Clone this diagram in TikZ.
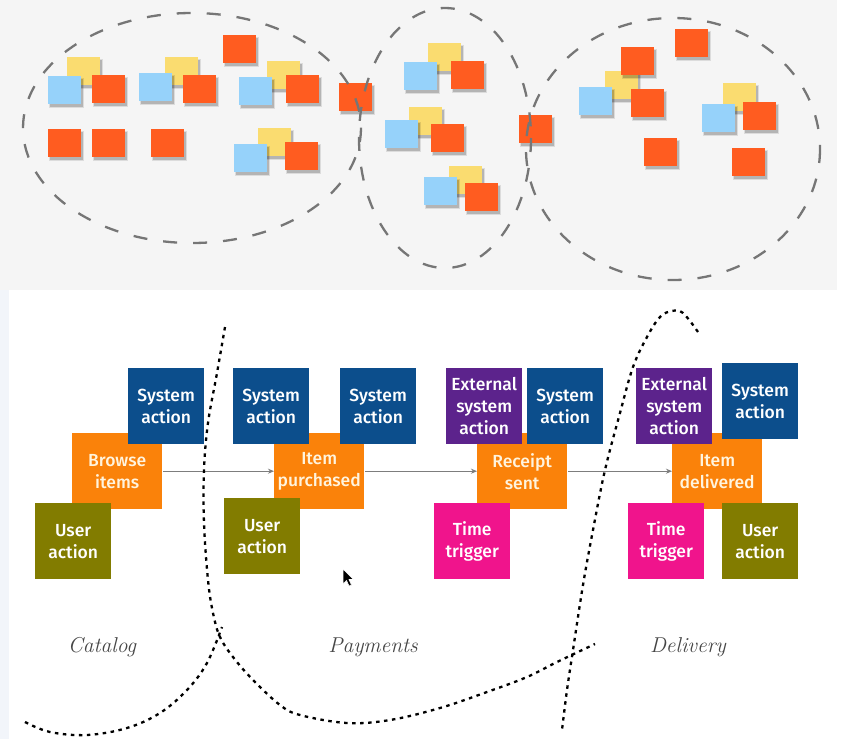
\documentclass[tikz,border=0pt]{standalone}
\usepackage{fontspec}
\usetikzlibrary{arrows.meta}
\newfontfamily\boxfont{Fira Sans}[UprightFont=* Medium]
\definecolor{topbg}{RGB}{245,245,245}
\definecolor{sidebg}{RGB}{242,245,250}
\definecolor{stkorange}{RGB}{255,92,32}
\definecolor{stkblue}{RGB}{150,210,250}
\definecolor{stkyellow}{RGB}{250,220,112}
\definecolor{ellgray}{RGB}{118,118,118}
\definecolor{evorange}{RGB}{250,130,10}
\definecolor{evtext}{RGB}{255,244,222}
\definecolor{sysblue}{RGB}{12,78,140}
\definecolor{useolive}{RGB}{130,124,0}
\definecolor{extpurple}{RGB}{92,35,140}
\definecolor{timepink}{RGB}{240,20,140}
\definecolor{flowgray}{RGB}{125,125,125}
\definecolor{lblgray}{RGB}{70,70,70}
\newcommand\stk[3]{%
  \fill[black,opacity=0.10] (#1+1,#2+2) rectangle ++(35,30);
  \fill[black,opacity=0.18] (#1+2,#2+3) rectangle ++(33,28);
  \fill[#3] (#1,#2) rectangle ++(33,28);}
\tikzset{
  card/.style={minimum width=76pt, minimum height=76pt, inner sep=0pt,
    align=center, text=white, anchor=north west,
    font=\boxfont\fontsize{17.5}{22}\selectfont},
  evt/.style={card, fill=evorange, minimum width=90pt, text=evtext},
  sysa/.style={card, fill=sysblue},
  usera/.style={card, fill=useolive},
  exta/.style={card, fill=extpurple},
  timet/.style={card, fill=timepink},
  flow/.style={draw=flowgray, line width=1.3pt, shorten <=1pt,
    -{Stealth[length=6pt,width=5pt]}},
  ellline/.style={draw=ellgray, line width=2.3pt, dash pattern=on 14pt off 16pt},
  dotline/.style={draw=black, line width=2.3pt, dash pattern=on 3.5pt off 4.5pt},
  lbl/.style={text=lblgray, font=\itshape\fontsize{21.5}{24}\selectfont}
}
\begin{document}
\begin{tikzpicture}[x=1pt,y=-1pt]
\useasboundingbox (0,0) rectangle (841,739);
% backgrounds
\fill[white] (0,0) rectangle (841,739);
\fill[topbg] (0,0) rectangle (837,290);
\fill[sidebg] (0,290) rectangle (9,739);
% sticky notes
\stk{67}{57}{stkyellow}\stk{48}{76}{stkblue}\stk{92}{75}{stkorange}
\stk{165}{57}{stkyellow}\stk{139}{73}{stkblue}\stk{183}{75}{stkorange}
\stk{223}{35}{stkorange}
\stk{267}{61}{stkyellow}\stk{239}{77}{stkblue}\stk{286}{75}{stkorange}
\stk{339}{83}{stkorange}
\stk{48}{129}{stkorange}\stk{92}{129}{stkorange}\stk{151}{129}{stkorange}
\stk{258}{128}{stkyellow}\stk{234}{144}{stkblue}\stk{285}{142}{stkorange}
\stk{428}{43}{stkyellow}\stk{404}{62}{stkblue}\stk{451}{61}{stkorange}
\stk{409}{107}{stkyellow}\stk{385}{120}{stkblue}\stk{431}{124}{stkorange}
\stk{449}{166}{stkyellow}\stk{424}{177}{stkblue}\stk{465}{183}{stkorange}
\stk{519}{115}{stkorange}
\stk{675}{29}{stkorange}
\stk{605}{71}{stkyellow}\stk{621}{47}{stkorange}\stk{579}{87}{stkblue}\stk{631}{89}{stkorange}
\stk{723}{83}{stkyellow}\stk{702}{104}{stkblue}\stk{743}{102}{stkorange}
\stk{644}{138}{stkorange}
\stk{732}{148}{stkorange}
% dashed ellipses
\draw[ellline] (192,128) ellipse [x radius=169, y radius=115];
\draw[ellline] (445,138) ellipse [x radius=86, y radius=130];
\draw[ellline] (673,149) ellipse [x radius=147, y radius=131];
% events
\node[evt] (browse) at (72,433) {Browse\\items};
\node[evt] (item) at (274,433) {Item\\purchased};
\node[evt] (receipt) at (477,433) {Receipt\\sent};
\node[evt] (delivered) at (672,433) {Item\\delivered};
% actions
\node[sysa] (sys1) at (128,368) {System\\action};
\node[sysa] (sys2) at (233,368) {System\\action};
\node[sysa] (sys3) at (340,368) {System\\action};
\node[exta] (ext1) at (446,368) {External\\system\\action};
\node[sysa] (sys4) at (527,368) {System\\action};
\node[exta] (ext2) at (636,368) {External\\system\\action};
\node[sysa] (sys5) at (722,363) {System\\action};
\node[usera] (user1) at (35,503) {User\\action};
\node[usera] (user2) at (224,498) {User\\action};
\node[timet] (time1) at (434,503) {Time\\trigger};
\node[timet] (time2) at (628,503) {Time\\trigger};
\node[usera] (user3) at (722,503) {User\\action};
% flow
\draw[flow] (browse) -- (item);
\draw[flow] (item) -- (receipt);
\draw[flow] (receipt) -- (delivered);
% labels
\node[lbl] (catalog) at (102,647) {Catalog};
\node[lbl] (payments) at (373,647) {Payments};
\node[lbl] (delivery) at (688,647) {Delivery};
% dotted boundaries
\draw[dotline] plot[smooth, tension=0.6] coordinates {(25,722) (50,732) (87,735) (127,728) (160,713) (187,690) (207,663) (222,627)};
\draw[dotline] plot[smooth, tension=0.6] coordinates {(225,327) (217,373) (208,423) (204,470) (204,523) (208,580) (213,613) (220,637) (233,657) (253,680) (280,705) (300,715) (347,723) (390,720) (440,708) (487,692) (527,677) (557,662) (595,644)};
\draw[dotline] plot[smooth, tension=0.6] coordinates {(698,332) (683,313) (672,311) (660,317) (647,337) (633,367) (620,413) (605,470) (593,530) (583,585) (573,650) (567,690) (562,730)};
% cursor
\fill[black, draw=white, line width=0.6pt] (343,569) -- (343,584) -- (346.5,580.5) -- (349,586) -- (351.5,585) -- (349,579.5) -- (353.5,579.5) -- cycle;
\end{tikzpicture}
\end{document}
